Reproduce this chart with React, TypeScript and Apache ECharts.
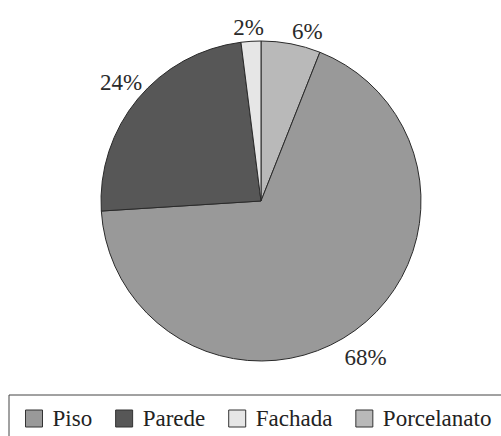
import React, { useEffect, useRef } from "react";
import * as echarts from "echarts";

// Data (clockwise from 12 o'clock)
const categories = ["Porcelanato", "Piso", "Parede", "Fachada"];
const values = [6, 68, 24, 2];
const legendOrder = ["Piso", "Parede", "Fachada", "Porcelanato"];

// Styles (kept apart from data)
const colors: Record<string, string> = {
  Porcelanato: "#b9b9b9",
  Piso: "#999999",
  Parede: "#575757",
  Fachada: "#e6e6e6",
};
const labelOffsets: Record<string, [number, number]> = {
  Porcelanato: [12, 10],
  Piso: [-3, 8],
  Parede: [1, -2],
  Fachada: [-1, 9],
};

const FONT = "Liberation Serif";

export default function App() {
  const ref = useRef<HTMLDivElement>(null);
  useEffect(() => {
    if (!ref.current) return;
    const chart = echarts.init(ref.current, undefined, { renderer: "svg" });
    const data = categories.map((c, i) => ({
      name: c,
      value: values[i],
      itemStyle: { color: colors[c] },
    }));
    chart.setOption({
      animation: false,
      backgroundColor: "#ffffff",
      legend: {
        data: legendOrder,
        left: 9,
        top: 395,
        width: 700,
        orient: "horizontal",
        icon: "rect",
        itemWidth: 17,
        itemHeight: 17,
        itemGap: 23,
        padding: [12, 30, 30, 16],
        borderColor: "#444",
        borderWidth: 1,
        selectedMode: false,
        itemStyle: { borderColor: "#333", borderWidth: 1 },
        textStyle: {
          fontFamily: FONT,
          fontSize: 23,
          color: "#222",
          padding: [0, 0, 0, 5],
        },
      },
      series: [
        {
          type: "pie",
          center: [261, 201],
          radius: [0, 160],
          startAngle: 90,
          clockwise: true,
          silent: true,
          label: { show: false },
          labelLine: { show: false },
          itemStyle: { borderColor: "#2a2a2a", borderWidth: 1 },
          data,
        },
        {
          type: "pie",
          center: [261, 201],
          radius: [170, 190],
          startAngle: 90,
          clockwise: true,
          silent: true,
          itemStyle: { color: "transparent", borderWidth: 0 },
          labelLine: { show: false },
          label: {
            show: true,
            position: "inside",
            formatter: "{d}%",
            fontFamily: FONT,
            fontSize: 23,
            color: "#2a2a2a",
          },
          data: categories.map((c, i) => ({
            name: c,
            value: values[i],
            label: { offset: labelOffsets[c] },
          })),
        },
      ],
    });
    return () => chart.dispose();
  }, []);
  return (
    <div
      ref={ref}
      style={{ position: "absolute", left: 0, top: 0, width: 501, height: 436 }}
    />
  );
}
